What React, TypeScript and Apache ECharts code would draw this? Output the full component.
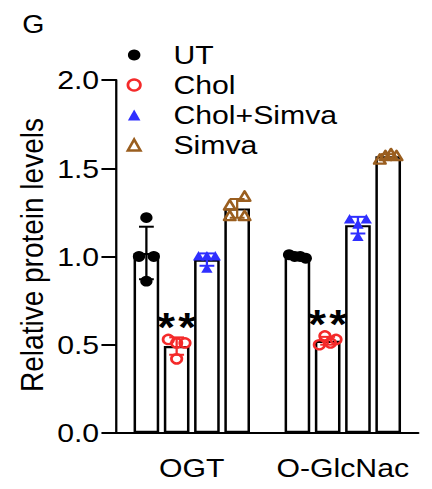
import React, { useEffect, useRef } from 'react';
import * as echarts from 'echarts';

// ---------------- data ----------------
const categories = ['OGT', 'O-GlcNac'];
const groupNames = ['UT', 'Chol', 'Chol+Simva', 'Simva'];
const utPoints = [
  [1.22, 1.0, 1.0, 0.86],
  [1.01, 1.0, 1.0, 0.99],
];
const cholPoints = [
  [0.53, 0.51, 0.51, 0.42],
  [0.5, 0.55, 0.51, 0.53],
];
const cholSimvaPoints = [
  [1.0, 1.0, 1.0, 0.93],
  [1.21, 1.18, 1.21, 1.11],
];
const simvaPoints = [
  [1.29, 1.34, 1.23, 1.23],
  [1.55, 1.57, 1.58, 1.57],
];
const cholSignificance = ['**', '**'];
const yTicks = [0, 0.5, 1.0, 1.5, 2.0];
const yTitle = 'Relative protein levels';
const panelLetter = 'G';

// ---------------- layout / style ----------------
const W = 379;
const H = 489;
const SX = 432 / W;
const FONT = '"Liberation Sans", Arial, Helvetica, sans-serif';
const GRID = { left: 102, right: 12, top: 80, bottom: 56 };
const BAR_W = 22.5;
const BAR_GAP = 0.18;
const COLORS = ['#000000', '#F42A2A', '#2F2FFF', '#9A5E1F'];
const KINDS = ['dot', 'ring', 'tri', 'openTri'];
const allPoints = [utPoints, cholPoints, cholSimvaPoints, simvaPoints];

const PX_PER_UNIT = (H - GRID.top - GRID.bottom) / (yTicks[yTicks.length - 1] - yTicks[0]);

function groupOffset(gi: number, n: number) {
  const widthSum = n * BAR_W * (1 + BAR_GAP) - BAR_W * BAR_GAP;
  return -widthSum / 2 + BAR_W / 2 + gi * BAR_W * (1 + BAR_GAP);
}

function mean(a: number[]) {
  return a.reduce((s, v) => s + v, 0) / a.length;
}
function sd(a: number[]) {
  const m = mean(a);
  return Math.sqrt(a.reduce((s, v) => s + (v - m) * (v - m), 0) / (a.length - 1));
}

// spread points of near-equal value across the bar (simple row swarm)
function swarm(vals: number[]) {
  const idx = vals.map((v, i) => i).sort((a, b) => vals[a] - vals[b]);
  const rows: number[][] = [];
  let cur: number[] = [];
  idx.forEach((i, k) => {
    if (k > 0 && (vals[i] - vals[idx[k - 1]]) * PX_PER_UNIT > 10) {
      rows.push(cur);
      cur = [];
    }
    cur.push(i);
  });
  if (cur.length) rows.push(cur);
  const offs = new Array(vals.length).fill(0);
  rows.forEach((row) => {
    const r = row.slice().sort((a, b) => a - b);
    const n = r.length;
    if (n < 2) return;
    const s = Math.min(13, (BAR_W * 0.65) / (n - 1));
    r.forEach((i, k) => {
      offs[i] = (k - (n - 1) / 2) * s;
    });
  });
  return offs;
}

function symbolShape(kind: string, cx: number, cy: number, color: string) {
  if (kind === 'dot') return { type: 'circle', shape: { cx, cy, r: 5.4 }, style: { fill: color } };
  if (kind === 'ring')
    return { type: 'circle', shape: { cx, cy, r: 4.6 }, style: { fill: 'none', stroke: color, lineWidth: 2.4 } };
  if (kind === 'tri')
    return {
      type: 'polygon',
      shape: { points: [[cx, cy - 5.5], [cx + 5, cy + 4], [cx - 5, cy + 4]] },
      style: { fill: color },
    };
  return {
    type: 'polygon',
    shape: { points: [[cx, cy - 5.2], [cx + 5, cy + 4.2], [cx - 5, cy + 4.2]] },
    style: { fill: 'none', stroke: color, lineWidth: 2.4, lineJoin: 'round' },
  };
}

export default function App() {
  const ref = useRef<HTMLDivElement>(null);

  useEffect(() => {
    if (!ref.current) return;
    const chart = echarts.init(ref.current, null, { renderer: 'svg' });
    const n = groupNames.length;

    const barSeries = groupNames.map((g, gi) => ({
      type: 'bar',
      name: g + ' mean',
      data: allPoints[gi].map((pts) => mean(pts)),
      barWidth: BAR_W,
      barGap: BAR_GAP * 100 + '%',
      itemStyle: { color: '#ffffff', borderColor: '#000000', borderWidth: 2.2 },
      z: 2,
      silent: true,
    }));

    const errSeries = groupNames.map((g, gi) => ({
      type: 'custom',
      name: g + ' sd',
      data: allPoints[gi].map((pts, ci) => [ci, mean(pts), sd(pts)]),
      encode: { x: 0, y: 1 },
      z: 3,
      silent: true,
      renderItem: (params: any, api: any) => {
        const ci = api.value(0);
        const m = api.value(1);
        const s = api.value(2);
        const top = api.coord([ci, m + s]);
        const bot = api.coord([ci, m - s]);
        const x = top[0] + groupOffset(gi, n);
        const st = { stroke: COLORS[gi], lineWidth: 2 };
        return {
          type: 'group',
          children: [
            { type: 'line', shape: { x1: x, y1: top[1], x2: x, y2: bot[1] }, style: st },
            { type: 'line', shape: { x1: x - 6.5, y1: top[1], x2: x + 6.5, y2: top[1] }, style: st },
            { type: 'line', shape: { x1: x - 6.5, y1: bot[1], x2: x + 6.5, y2: bot[1] }, style: st },
          ],
        };
      },
    }));

    const pointSeries = groupNames.map((g, gi) => {
      const data: number[][] = [];
      allPoints[gi].forEach((pts, ci) => {
        const offs = swarm(pts);
        pts.forEach((v, k) => data.push([ci, v, offs[k]]));
      });
      return {
        type: 'custom',
        name: g,
        data,
        encode: { x: 0, y: 1 },
        z: 4,
        silent: true,
        renderItem: (params: any, api: any) => {
          const c = api.coord([api.value(0), api.value(1)]);
          const x = c[0] + groupOffset(gi, n) + api.value(2);
          return symbolShape(KINDS[gi], x, c[1], COLORS[gi]);
        },
      };
    });

    const sigSeries = {
      type: 'custom',
      name: 'significance',
      data: cholSignificance.map((t, ci) => [ci, Math.max(...cholPoints[ci]), t.length]),
      encode: { x: 0, y: 1 },
      z: 5,
      silent: true,
      renderItem: (params: any, api: any) => {
        const ci = api.value(0);
        const c = api.coord([ci, api.value(1)]);
        const cx = c[0] + groupOffset(1, n);
        const cnt = api.value(2);
        const children: any[] = [];
        for (let k = 0; k < cnt; k++) {
          children.push({
            type: 'text',
            x: cx + (k - (cnt - 1) / 2) * 18.4,
            y: c[1] - 12,
            style: {
              text: '*',
              fontSize: 40,
              fontWeight: 'bold',
              fontFamily: FONT,
              fill: '#000',
              align: 'center',
              verticalAlign: 'middle',
            },
          });
        }
        return { type: 'group', children };
      },
    };

    const legendIcons = [
      { icon: 'circle', itemStyle: { color: COLORS[0], borderWidth: 0 } },
      { icon: 'circle', itemStyle: { color: '#ffffff', borderColor: COLORS[1], borderWidth: 2.4 } },
      { icon: 'triangle', itemStyle: { color: COLORS[2], borderWidth: 0 } },
      { icon: 'triangle', itemStyle: { color: '#ffffff', borderColor: COLORS[3], borderWidth: 2.4 } },
    ];

    chart.setOption({
      animation: false,
      backgroundColor: '#ffffff',
      grid: { ...GRID, containLabel: false },
      legend: {
        orient: 'vertical',
        left: 111,
        top: 40,
        padding: 0,
        itemGap: 0,
        itemWidth: 11,
        itemHeight: 11,
        selectedMode: false,
        data: groupNames.map((g, gi) => ({ name: g, ...legendIcons[gi] })),
        textStyle: {
          fontSize: 26.5,
          fontFamily: FONT,
          color: '#000',
          lineHeight: 30,
          padding: [0, 0, 0, 24],
        },
      },
      graphic: [
        {
          type: 'text',
          x: 19.5,
          y: 24.5,
          style: {
            text: panelLetter,
            fontSize: 25,
            fontFamily: FONT,
            fill: '#000',
            align: 'left',
            verticalAlign: 'middle',
          },
        },
        {
          type: 'text',
          x: 28,
          y: 255,
          rotation: Math.PI / 2,
          style: {
            text: yTitle,
            fontSize: 28,
            fontFamily: FONT,
            fill: '#000',
            align: 'center',
            verticalAlign: 'middle',
          },
        },
      ],
      xAxis: {
        type: 'category',
        data: categories,
        axisLine: { lineStyle: { color: '#000', width: 2 } },
        axisTick: { alignWithLabel: true, length: 13, lineStyle: { color: '#000', width: 2 } },
        axisLabel: { interval: 0, fontSize: 26.5, fontFamily: FONT, color: '#000', margin: 21.5 },
        splitLine: { show: false },
      },
      yAxis: {
        type: 'value',
        min: yTicks[0],
        max: yTicks[yTicks.length - 1],
        interval: yTicks[1] - yTicks[0],
        axisLine: { show: true, lineStyle: { color: '#000', width: 2 } },
        axisTick: { show: true, length: 13, lineStyle: { color: '#000', width: 2 } },
        axisLabel: {
          fontSize: 26.5,
          fontFamily: FONT,
          color: '#000',
          margin: 15,
          formatter: (v: number) => v.toFixed(1),
        },
        splitLine: { show: false },
      },
      series: [...barSeries, ...errSeries, ...pointSeries, sigSeries],
    });

    return () => chart.dispose();
  }, []);

  return (
    <div
      ref={ref}
      style={{
        position: 'absolute',
        left: 0,
        top: 0,
        width: W,
        height: H,
        transform: `scaleX(${SX})`,
        transformOrigin: '0 0',
      }}
    />
  );
}
